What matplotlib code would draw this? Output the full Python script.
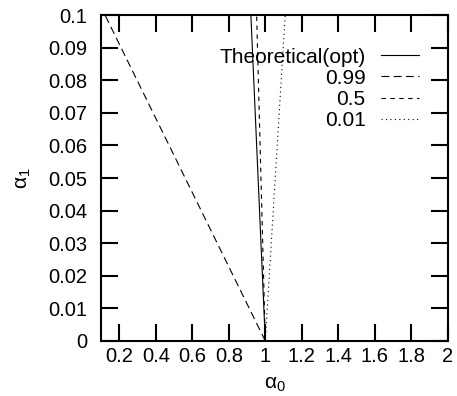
import matplotlib
matplotlib.use("Agg")
import matplotlib.pyplot as plt

plt.rcParams['font.family'] = ['Liberation Sans', 'DejaVu Sans']
plt.rcParams['mathtext.fontset'] = 'custom'
plt.rcParams['mathtext.rm'] = 'Liberation Sans'
plt.rcParams['mathtext.it'] = 'Liberation Sans'

# line endpoints (alpha0, alpha1)
theory_a0 = [1.0, 0.921]
theory_a1 = [0.0, 0.1]
p99_a0 = [1.0, 0.122]
p99_a1 = [0.0, 0.1]
p50_a0 = [1.0, 0.9525]
p50_a1 = [0.0, 0.1]
p01_a0 = [1.0, 1.109]
p01_a1 = [0.0, 0.1]

xticks = [0.2, 0.4, 0.6, 0.8, 1.0, 1.2, 1.4, 1.6, 1.8, 2.0]
xticklabels = ['0.2', '0.4', '0.6', '0.8', '1', '1.2', '1.4', '1.6', '1.8', '2']
yticks = [0, 0.01, 0.02, 0.03, 0.04, 0.05, 0.06, 0.07, 0.08, 0.09, 0.1]
yticklabels = ['0', '0.01', '0.02', '0.03', '0.04', '0.05', '0.06', '0.07', '0.08', '0.09', '0.1']

fig = plt.figure(figsize=(4.57, 3.96), dpi=100)
ax = fig.add_axes([0.221, 0.139, 0.759, 0.823])

lw = 0.8
ax.plot(theory_a0, theory_a1, color='black', lw=lw, label='Theoretical(opt)')
ax.plot(p99_a0, p99_a1, color='black', lw=lw, dashes=(7, 4), label='0.99')
ax.plot(p50_a0, p50_a1, color='black', lw=lw, dashes=(4, 4), label='0.5')
ax.plot(p01_a0, p01_a1, color='black', lw=lw, dashes=(1, 3), label='0.01')

ax.set_xlim(0.1, 2)
ax.set_ylim(0, 0.1)
ax.set_xticks(xticks)
ax.set_xticklabels(xticklabels)
ax.set_yticks(yticks)
ax.set_yticklabels(yticklabels)
ax.tick_params(direction='in', length=12, width=1.5, top=True, right=True,
               labelsize=14.5, colors='black')
ax.tick_params(axis='x', pad=4)
ax.tick_params(axis='y', pad=10)
for s in ax.spines.values():
    s.set_linewidth(1.5)

ax.set_xlabel(r'$\alpha_0$', fontsize=15, labelpad=7)
ax.set_ylabel(r'$\alpha_1$', fontsize=15, labelpad=11)

ax.legend(loc='upper right', bbox_to_anchor=(0.916, 0.9), frameon=False,
          markerfirst=False, fontsize=15, handlelength=1.8, handletextpad=0.75,
          labelspacing=0.1, borderpad=0, borderaxespad=0)

fig.savefig('out.png', dpi=100)
